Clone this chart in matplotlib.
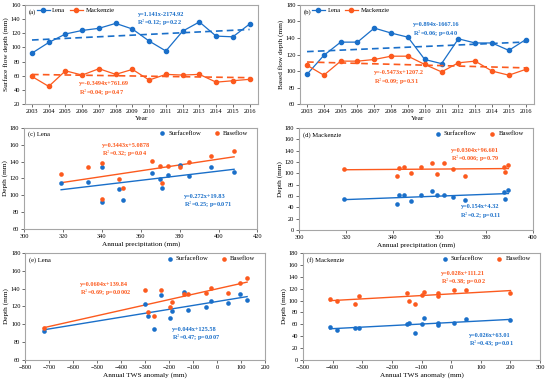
import numpy as np
import matplotlib
matplotlib.use("Agg")
import matplotlib.pyplot as plt
from matplotlib.lines import Line2D

plt.rcParams['font.family'] = ['Liberation Serif', 'DejaVu Serif']
plt.rcParams['mathtext.fontset'] = 'stix'
plt.rcParams['font.size'] = 4.5

blue = "#1a6fc9"
orange = "#fc5a1e"
frame = "#a6a6a6"

years = np.arange(2003, 2017)
# surface / base flow depth (mm)
lena_surf = [92, 107, 119, 124, 127, 134, 126, 109, 95, 123, 136, 116, 115, 133]
mack_surf = [59, 45, 67, 61, 70, 62, 69, 54, 62, 61, 62, 51, 53, 55]
lena_base = [96, 119, 135, 135, 152, 146, 141, 114, 109, 139, 134, 134, 125, 138]
mack_base = [107, 95, 112, 112, 114, 118, 118, 108, 99, 110, 112, 100, 95, 102]
# annual precipitation (mm)
lena_prec = [340, 349, 370, 374, 408, 396, 366, 371, 351, 385, 380, 333, 319, 340]
mack_prec = [366, 342, 387.5, 345, 389.5, 362, 357, 319, 359, 342.5, 352, 348, 371, 388]
# annual TWS anomaly (mm)
lena_tws = [-720, -195, -45, 45, 125, 95, -25, -290, -265, -300, -140, -120, -190, -235]
mack_tws = [-45, -122, 200, -150, -92, 10, 50, -310, -143, -100, -45, -385, -325, -410]

# regression coefficients (slope, intercept) as printed
fit_a = {"Lena": (1.141, -2174.92), "Mackenzie": (-0.3494, 761.69)}
fit_b = {"Lena": (0.894, -1667.16), "Mackenzie": (-0.5473, 1207.2)}
fit_c = {"surf": (0.272, 19.83), "base": (0.3443, 5.0878)}
fit_d = {"surf": (0.154, 4.32), "base": (0.0304, 96.601)}
fit_e = {"surf": (0.044, 125.58), "base": (0.0604, 139.84)}
fit_f = {"surf": (0.026, 63.01), "base": (0.028, 111.21)}

TICK = 4.6
LAB = 5.2
ANN = 4.5
LEG = 4.8

fig = plt.figure(figsize=(5.5, 3.8), dpi=100)


def style(ax):
    for s in ax.spines.values():
        s.set_color(frame)
        s.set_linewidth(0.8)
    ax.tick_params(direction='out', length=2, width=0.6, color="#555555", pad=1.5, labelsize=TICK)


def time_panel(rect, lena, mack, fit, ylim, ylabel, tag, txt):
    ax = fig.add_axes(rect)
    style(ax)
    ax.plot(years, lena, '-o', color=blue, lw=0.9, ms=3)
    ax.plot(years, mack, '-o', color=orange, lw=0.9, ms=3)
    for key, c in (("Lena", blue), ("Mackenzie", orange)):
        k, b = fit[key]
        ax.plot(years, k * years + b, '--', color=c, lw=1.2, dashes=(4, 2.5))
    ax.set_xlim(2002.6, 2016.5)
    ax.set_xticks(years)
    ax.set_ylim(*ylim)
    ax.set_yticks(np.arange(ylim[0], ylim[1] + 1, 20))
    ax.set_xlabel("Year", labelpad=1.5, fontsize=LAB)
    ax.set_ylabel(ylabel, labelpad=1.5, fontsize=LAB)
    ax.text(0.015, 0.93, tag, transform=ax.transAxes, ha='left', va='center', fontsize=LEG)
    handles = [Line2D([], [], color=blue, marker='o', ms=3, lw=0.9),
               Line2D([], [], color=orange, marker='o', ms=3, lw=0.9)]
    ax.legend(handles, ["Lena", "Mackenzie"], ncol=2, frameon=False, loc='upper left',
              bbox_to_anchor=(0.05, 0.975), borderaxespad=0, borderpad=0,
              fontsize=LEG, handlelength=1.9, columnspacing=0.7, handletextpad=0.4)
    for key, c in (("Lena", blue), ("Mackenzie", orange)):
        k, b = fit[key]
        x, y, r2, p = txt[key]
        sign = "+" if b >= 0 else ""
        ax.text(x, y, f"y={k}x{sign}{b}\nR$^2$={r2}; p={p}", color=c, fontsize=ANN,
                ha='left', va='top', fontweight='bold', linespacing=1.1)
    return ax


def scatter_panel(rect, x, surf, base, fit, xlim, xstep, ylim, xlabel, tag, txt):
    ax = fig.add_axes(rect)
    style(ax)
    x = np.array(x, dtype=float)
    ax.scatter(x, surf, s=11, color=blue, zorder=3, label="Surfaceflow", linewidths=0)
    ax.scatter(x, base, s=11, color=orange, zorder=3, label="Baseflow", linewidths=0)
    xs = np.array([x.min(), x.max()])
    for key, c in (("surf", blue), ("base", orange)):
        k, b = fit[key]
        ax.plot(xs, k * xs + b, '-', color=c, lw=1.0)
    ax.set_xlim(*xlim)
    ax.set_xticks(np.arange(xlim[0], xlim[1] + 1, xstep))
    ax.set_ylim(*ylim)
    ax.set_yticks(np.arange(ylim[0], ylim[1] + 1, 20))
    ax.set_xlabel(xlabel, labelpad=1.5, fontsize=LAB)
    ax.set_ylabel("Depth (mm)", labelpad=1.5, fontsize=LAB)
    ax.text(0.015, 0.935, tag, transform=ax.transAxes, ha='left', va='center', fontsize=LEG)
    ax.legend(ncol=2, frameon=False, loc='upper right', bbox_to_anchor=(0.96, 0.975),
              borderaxespad=0, borderpad=0, fontsize=LEG, handlelength=0.8,
              handletextpad=0.5, columnspacing=2.0, markerscale=1.0)
    for key, c in (("surf", blue), ("base", orange)):
        k, b = fit[key]
        tx, ty, r2, p = txt[key]
        ax.text(tx, ty, f"y={k}x+{b}\nR$^2$={r2}; p={p}", color=c, fontsize=ANN,
                ha='left', va='top', fontweight='bold', linespacing=1.1)
    return ax


time_panel([0.046, 0.726, 0.423, 0.261], lena_surf, mack_surf, fit_a, (20, 160),
           "Surface flow depth (mm)", "(a)",
           {"Lena": (2009.3, 150, "0.12", "0.22"), "Mackenzie": (2005.8, 52, "0.04", "0.47")})
time_panel([0.546, 0.726, 0.425, 0.261], lena_base, mack_base, fit_b, (60, 180),
           "Based flow depth (mm)", "(b)",
           {"Lena": (2009.3, 159, "0.06", "0.40"), "Mackenzie": (2007.0, 101, "0.09", "0.31")})

scatter_panel([0.044, 0.397, 0.424, 0.267], lena_prec, lena_surf, lena_base, fit_c,
              (300, 420), 20, (60, 180), "Annual precipitation (mm)", "(c) Lena",
              {"surf": (382, 102, "0.25", "0.071"), "base": (340, 162, "0.32", "0.04")})
scatter_panel([0.544, 0.395, 0.425, 0.268], mack_prec, mack_surf, mack_base, fit_d,
              (300, 400), 20, (0, 180), "Annual precipitation (mm)", "(d) Mackenzie",
              {"surf": (369, 45, "0.2", "0.11"), "base": (365, 145, "0.006", "0.79")})

scatter_panel([0.046, 0.053, 0.436, 0.281], lena_tws, lena_surf, lena_base, fit_e,
              (-800, 200), 100, (60, 180), "Annual TWS anomaly (mm)", "(e) Lena",
              {"surf": (-190, 97, "0.47", "0.007"), "base": (-572, 148, "0.69", "0.0002")})
scatter_panel([0.551, 0.053, 0.431, 0.281], mack_tws, mack_surf, mack_base, fit_f,
              (-500, 300), 100, (0, 180), "Annual TWS anomaly (mm)", "(f) Mackenzie",
              {"surf": (60, 46, "0.43", "0.01"), "base": (-36, 150, "0.38", "0.02")})

fig.savefig("out.png", dpi=100)
